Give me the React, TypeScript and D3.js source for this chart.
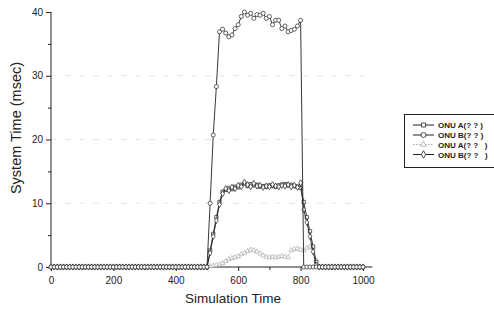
import React, { useEffect, useRef } from 'react';
import * as d3 from 'd3';

// sampling instants on the x axis (every 10 time units)
const simTimes = d3.range(0, 1001, 10);

// ONU A (squares)
const onuA1 = [
  0, 0, 0, 0, 0, 0, 0, 0, 0, 0, 0, 0, 0, 0, 0, 0, 0, 0, 0, 0,
  0, 0, 0, 0, 0, 0, 0, 0, 0, 0, 0, 0, 0, 0, 0, 0, 0, 0, 0, 0,
  0, 0, 0, 0, 0, 0, 0, 0, 0, 0, 0,
  2.6, 5.2, 7.8, 10.2, 11.8, 12.1, 12.4, 12.2, 12.6, 12.5,
  12.9, 13.1, 12.7, 13.0, 12.8, 12.9, 12.6, 12.7, 12.6, 12.8,
  12.7, 12.6, 12.8, 12.9, 13.0, 12.8, 12.9, 12.7, 12.6, 12.4,
  10.2, 7.8, 5.6, 3.2, 0.8, 0, 0, 0, 0, 0,
  0, 0, 0, 0, 0, 0, 0, 0, 0, 0,
];

// ONU B (circles)
const onuB1 = [
  0, 0, 0, 0, 0, 0, 0, 0, 0, 0, 0, 0, 0, 0, 0, 0, 0, 0, 0, 0,
  0, 0, 0, 0, 0, 0, 0, 0, 0, 0, 0, 0, 0, 0, 0, 0, 0, 0, 0, 0,
  0, 0, 0, 0, 0, 0, 0, 0, 0, 0, 0,
  10.0, 20.7, 28.3, 36.9, 37.3, 36.7, 36.1, 36.4, 37.4, 38.0,
  39.3, 40.0, 39.5, 39.8, 39.0, 39.6, 39.5, 39.8, 39.0, 39.3,
  38.0, 38.7, 38.7, 37.4, 37.8, 36.9, 37.1, 37.3, 37.8, 38.7,
  0, 0, 0, 0, 0, 0, 0, 0, 0, 0,
  0, 0, 0, 0, 0, 0, 0, 0, 0, 0,
];

// ONU A (triangles, dotted grey)
const onuA2 = [
  0, 0, 0, 0, 0, 0, 0, 0, 0, 0, 0, 0, 0, 0, 0, 0, 0, 0, 0, 0,
  0, 0, 0, 0, 0, 0, 0, 0, 0, 0, 0, 0, 0, 0, 0, 0, 0, 0, 0, 0,
  0, 0, 0, 0, 0, 0, 0, 0, 0, 0, 0,
  0.1, 0.2, 0.3, 0.4, 0.6, 0.9, 1.2, 1.4, 1.5, 1.7,
  2.0, 2.2, 2.5, 2.7, 2.6, 2.4, 2.1, 1.8, 1.6, 1.5,
  1.6, 1.5, 1.6, 1.7, 1.6, 1.5, 2.6, 2.8, 2.9, 2.7,
  2.6, 3.0, 3.2, 3.0, 1.0, 0, 0, 0, 0, 0,
  0, 0, 0, 0, 0, 0, 0, 0, 0, 0,
];

// ONU B (diamonds)
const onuB2 = [
  0, 0, 0, 0, 0, 0, 0, 0, 0, 0, 0, 0, 0, 0, 0, 0, 0, 0, 0, 0,
  0, 0, 0, 0, 0, 0, 0, 0, 0, 0, 0, 0, 0, 0, 0, 0, 0, 0, 0, 0,
  0, 0, 0, 0, 0, 0, 0, 0, 0, 0, 0,
  2.2, 4.8, 7.3, 9.8, 11.5, 12.3, 12.0, 12.5, 12.3, 12.8,
  12.6, 13.3, 12.9, 12.6, 13.1, 12.7, 12.8, 12.5, 12.7, 12.6,
  12.9, 12.7, 12.6, 12.8, 12.7, 12.9, 12.6, 12.8, 12.5, 13.2,
  9.0, 7.0, 4.8, 2.4, 0.3, 0, 0, 0, 0, 0,
  0, 0, 0, 0, 0, 0, 0, 0, 0, 0,
];

const seriesNames = ['ONU A(? ? )', 'ONU B(? ? )', 'ONU A(? ?   )', 'ONU B(? ?   )'];
const xTicks = [0, 200, 400, 600, 800, 1000];
const yTicks = [0, 10, 20, 30, 40];

export default function App() {
  const ref = useRef<SVGSVGElement>(null);

  useEffect(() => {
    if (!ref.current) return;
    const svg = d3.select(ref.current);
    svg.selectAll('*').remove();

    const font = '"Liberation Sans", Arial, sans-serif';
    const x = d3.scaleLinear().domain([0, 1000]).range([51, 363]);
    const y = d3.scaleLinear().domain([0, 40]).range([267, 12]);
    const xEnd = 1030;

    // faint dashed grid
    const grid = svg.append('g');
    [10, 20, 30].forEach(v => {
      grid.append('line')
        .attr('x1', x(0)).attr('x2', x(xEnd))
        .attr('y1', y(v)).attr('y2', y(v))
        .attr('stroke', '#e6e6e6')
        .attr('stroke-dasharray', '6 8');
    });

    // axes
    const yAxis = d3.axisLeft(y).tickValues(yTicks).tickSize(5).tickPadding(3).tickSizeOuter(0);
    const yMinor = d3.axisLeft(y).tickValues([5, 15, 25, 35]).tickSize(3).tickFormat(() => '').tickSizeOuter(0);
    const xAxis = d3.axisBottom(x).tickValues(xTicks).tickSize(4).tickPadding(6)
      .tickFormat(d3.format('d')).tickSizeOuter(0);
    const xMinor = d3.axisBottom(x).tickValues([100, 300, 500, 700, 900]).tickSize(3).tickFormat(() => '').tickSizeOuter(0);

    const gy = svg.append('g').attr('transform', `translate(${x(0)},0)`).call(yAxis);
    svg.append('g').attr('transform', `translate(${x(0)},0)`).call(yMinor);
    const gx = svg.append('g').attr('transform', `translate(0,${y(0)})`).call(xAxis);
    svg.append('g').attr('transform', `translate(0,${y(0)})`).call(xMinor);

    svg.selectAll('.domain').remove();
    svg.append('line')
      .attr('x1', x(0)).attr('x2', x(0)).attr('y1', y(0)).attr('y2', y(40))
      .attr('stroke', '#222');
    svg.append('line')
      .attr('x1', x(0)).attr('x2', x(xEnd)).attr('y1', y(0)).attr('y2', y(0))
      .attr('stroke', '#222');

    svg.selectAll('.tick line').attr('stroke', '#222');
    [gx, gy].forEach(g => g.selectAll('text')
      .style('font-family', font)
      .style('font-size', '10px')
      .attr('fill', '#222'));

    // axis titles
    svg.append('text')
      .attr('x', 233).attr('y', 303)
      .attr('text-anchor', 'middle')
      .style('font-family', font).style('font-size', '13.5px')
      .attr('fill', '#222')
      .text('Simulation Time');
    svg.append('text')
      .attr('transform', 'translate(21,128) rotate(-90)')
      .attr('text-anchor', 'middle')
      .style('font-family', font).style('font-size', '14.5px')
      .attr('fill', '#222')
      .text('System Time (msec)');

    const series = [
      { name: seriesNames[0], values: onuA1, symbol: d3.symbolSquare, color: '#222', dash: null, size: 11 },
      { name: seriesNames[1], values: onuB1, symbol: d3.symbolCircle, color: '#222', dash: null, size: 13 },
      { name: seriesNames[2], values: onuA2, symbol: d3.symbolTriangle, color: '#aaa', dash: '1.5 1.5', size: 10 },
      { name: seriesNames[3], values: onuB2, symbol: d3.symbolDiamond, color: '#222', dash: null, size: 11 },
    ];

    const line = d3.line<number>()
      .x((_, i) => x(simTimes[i]))
      .y(d => y(d));

    const plot = svg.append('g');
    // draw grey one first so the black ones sit on top
    [2, 0, 3, 1].forEach(k => {
      const s = series[k];
      plot.append('path')
        .datum(s.values)
        .attr('fill', 'none')
        .attr('stroke', s.color)
        .attr('stroke-width', 0.9)
        .attr('stroke-dasharray', s.dash)
        .attr('d', line);
      plot.selectAll(null)
        .data(s.values)
        .join('path')
        .attr('transform', (d, i) => `translate(${x(simTimes[i])},${y(d)})`)
        .attr('d', d3.symbol().type(s.symbol).size(s.size)())
        .attr('fill', 'white')
        .attr('stroke', s.color)
        .attr('stroke-width', 0.7);
    });

    // legend
    const lg = svg.append('g');
    lg.append('rect')
      .attr('x', 404.5).attr('y', 114.5)
      .attr('width', 100).attr('height', 53)
      .attr('fill', 'white')
      .attr('stroke', '#222');
    const rows = [125, 135, 144.5, 154.5];
    series.forEach((s, i) => {
      lg.append('line')
        .attr('x1', 413).attr('x2', 434)
        .attr('y1', rows[i]).attr('y2', rows[i])
        .attr('stroke', s.color)
        .attr('stroke-dasharray', s.dash);
      lg.append('path')
        .attr('transform', `translate(423.5,${rows[i]})`)
        .attr('d', d3.symbol().type(s.symbol).size(s.size * 1.5)())
        .attr('fill', 'white')
        .attr('stroke', s.color)
        .attr('stroke-width', 0.8);
      lg.append('text')
        .attr('x', 438).attr('y', rows[i] + 3)
        .style('font-family', font).style('font-size', '8px')
        .style('font-weight', 'bold')
        .style('white-space', 'pre')
        .attr('fill', '#222')
        .text(s.name);
    });
  }, []);

  return (
    <svg
      ref={ref}
      width={494}
      height={309}
      style={{ position: 'absolute', left: 0, top: 0, background: 'white' }}
    />
  );
}
